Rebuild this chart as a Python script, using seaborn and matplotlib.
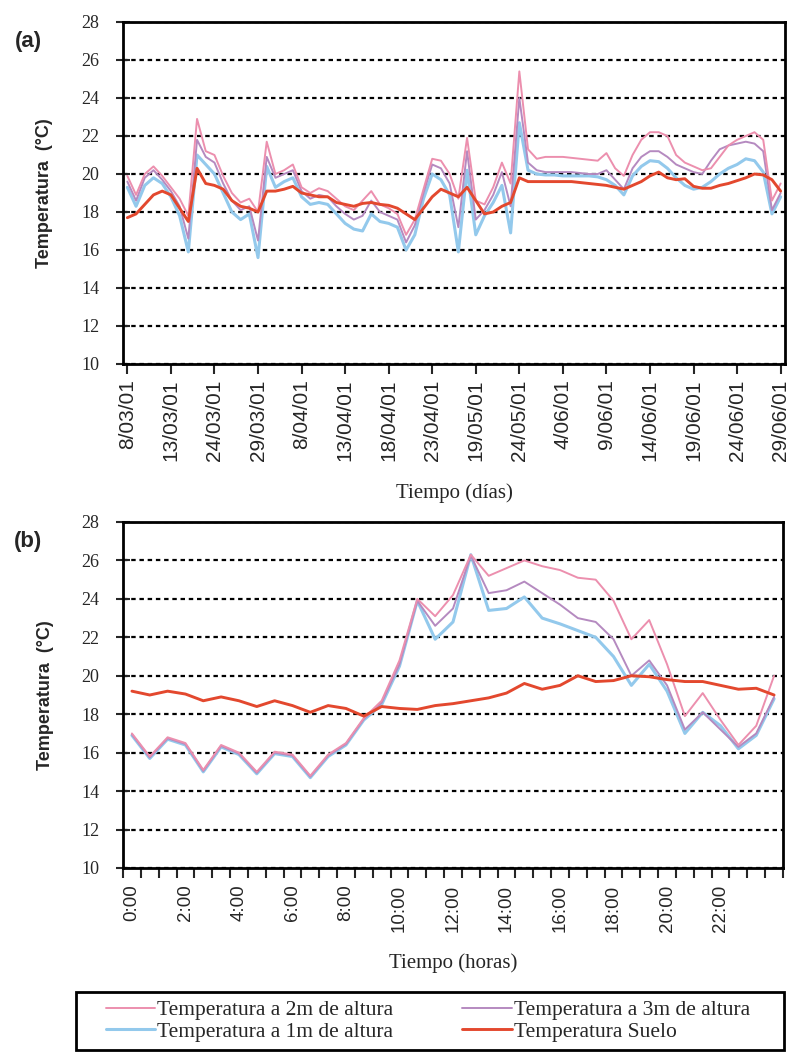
import numpy as np
import pandas as pd
import seaborn as sns
from matplotlib import pyplot as plt
from matplotlib.patches import Rectangle

# --- (a) daily series, 76 sampled days ---
date_labels = ['8/03/01', '13/03/01', '24/03/01', '29/03/01', '8/04/01', '13/04/01',
               '18/04/01', '23/04/01', '19/05/01', '24/05/01', '4/06/01', '9/06/01',
               '14/06/01', '19/06/01', '24/06/01', '29/06/01']

t2m_a = [19.9, 18.9, 20.0, 20.4, 19.9, 19.3, 18.7, 17.8, 22.9, 21.2,
         21.0, 19.9, 19.0, 18.5, 18.7, 18.0, 21.7, 20.0, 20.2, 20.5,
         19.3, 19.0, 19.25, 19.1, 18.7, 18.3, 18.1, 18.6, 19.1, 18.4,
         18.2, 17.9, 16.8, 17.6, 19.2, 20.8, 20.7, 20.0, 18.7, 21.9,
         18.6, 18.4, 19.3, 20.6, 19.5, 25.4, 21.3, 20.8, 20.9, 20.9,
         20.9, 20.85, 20.8, 20.75, 20.7, 21.1, 20.3, 19.9, 21.0, 21.8,
         22.2, 22.2, 22.0, 21.0, 20.6, 20.4, 20.2, 20.3, 20.9, 21.5,
         21.8, 22.0, 22.2, 21.8, 18.6, 19.5]
t3m_a = [19.6, 18.6, 19.8, 20.2, 19.7, 19.1, 18.3, 16.6, 21.8, 20.9,
         20.6, 19.5, 18.6, 18.1, 18.3, 16.5, 20.9, 19.8, 20.0, 20.2,
         19.1, 18.7, 18.9, 18.8, 18.3, 17.9, 17.6, 17.8, 18.6, 18.0,
         17.8, 17.6, 16.4, 17.3, 19.0, 20.5, 20.3, 19.5, 17.2, 21.2,
         17.6, 18.1, 18.9, 20.1, 18.3, 24.0, 20.6, 20.2, 20.1, 20.1,
         20.1, 20.1, 20.05, 20.0, 20.0, 20.2, 19.7, 19.2, 20.3, 20.9,
         21.2, 21.2, 20.9, 20.5, 20.3, 20.1, 20.0, 20.7, 21.3, 21.5,
         21.6, 21.7, 21.6, 21.2, 18.1, 19.0]
t1m_a = [19.3, 18.3, 19.4, 19.8, 19.5, 18.8, 17.8, 15.9, 21.0, 20.5,
         20.0, 19.0, 18.0, 17.6, 17.9, 15.6, 20.4, 19.3, 19.6, 19.8,
         18.8, 18.4, 18.5, 18.4, 17.9, 17.4, 17.1, 17.0, 17.9, 17.5,
         17.4, 17.2, 16.0, 16.8, 18.7, 20.0, 19.7, 18.9, 15.9, 20.2,
         16.8, 17.8, 18.5, 19.4, 16.9, 22.7, 20.2, 20.0, 19.95, 19.95,
         19.9, 19.9, 19.9, 19.9, 19.85, 19.7, 19.4, 18.9, 19.9, 20.4,
         20.7, 20.65, 20.3, 19.8, 19.4, 19.2, 19.3, 19.6, 20.0, 20.3,
         20.5, 20.8, 20.7, 20.1, 17.9, 18.8]
suelo_a = [17.7, 17.9, 18.4, 18.9, 19.1, 18.9, 18.2, 17.5, 20.3, 19.5,
           19.4, 19.2, 18.6, 18.3, 18.2, 18.0, 19.1, 19.1, 19.2, 19.35,
           19.0, 18.9, 18.8, 18.8, 18.5, 18.4, 18.3, 18.45, 18.5, 18.4,
           18.35, 18.2, 17.9, 17.6, 18.2, 18.8, 19.2, 19.0, 18.8, 19.3,
           18.6, 17.9, 18.0, 18.3, 18.5, 19.8, 19.6, 19.6, 19.6, 19.6,
           19.6, 19.6, 19.55, 19.5, 19.45, 19.4, 19.3, 19.2, 19.4, 19.6,
           19.9, 20.1, 19.8, 19.7, 19.75, 19.35, 19.25, 19.25, 19.4, 19.5,
           19.65, 19.8, 20.0, 19.95, 19.7, 19.1]

# --- (b) one day, every 40 min (0:00 .. 24:00) ---
hour_labels = ['0:00', '2:00', '4:00', '6:00', '8:00', '10:00',
               '12:00', '14:00', '16:00', '18:00', '20:00', '22:00']

t2m_b = [17.0, 15.8, 16.8, 16.5, 15.1, 16.4, 16.0, 15.0, 16.05, 15.9,
         14.8, 15.9, 16.5, 17.8, 18.7, 20.8, 24.0, 23.1, 24.2, 26.3,
         25.2, 25.6, 26.0, 25.7, 25.5, 25.1, 25.0, 23.9, 21.9, 22.9,
         20.6, 17.9, 19.1, 17.7, 16.4, 17.4, 20.0]
t3m_b = [16.95, 15.75, 16.75, 16.45, 15.05, 16.35, 15.95, 14.95, 16.0, 15.85,
         14.75, 15.85, 16.45, 17.75, 18.6, 20.6, 23.9, 22.6, 23.5, 26.25,
         24.3, 24.45, 24.9, 24.3, 23.7, 23.0, 22.8, 21.9, 20.0, 20.8,
         19.5, 17.2, 18.1, 17.2, 16.3, 17.0, 18.9]
t1m_b = [16.9, 15.7, 16.7, 16.4, 15.0, 16.3, 15.9, 14.9, 15.95, 15.8,
         14.7, 15.8, 16.4, 17.7, 18.5, 20.5, 23.9, 21.9, 22.8, 26.3,
         23.4, 23.5, 24.1, 23.0, 22.7, 22.35, 22.0, 21.0, 19.5, 20.6,
         19.2, 17.0, 18.1, 17.4, 16.2, 16.9, 18.8]
suelo_b = [19.2, 19.0, 19.2, 19.05, 18.7, 18.9, 18.7, 18.4, 18.7, 18.45,
           18.1, 18.45, 18.3, 17.9, 18.4, 18.3, 18.25, 18.45, 18.55, 18.7,
           18.85, 19.1, 19.6, 19.3, 19.5, 20.0, 19.7, 19.75, 20.0, 19.95,
           19.8, 19.7, 19.7, 19.5, 19.3, 19.35, 19.0]

series_names = ['Temperatura a 2m de altura', 'Temperatura a 3m de altura',
                'Temperatura a 1m de altura', 'Temperatura Suelo']
colors = {'Temperatura a 2m de altura': '#ec8fae',
          'Temperatura a 3m de altura': '#b58ac0',
          'Temperatura a 1m de altura': '#93c9ec',
          'Temperatura Suelo': '#e3482e'}
widths = {'Temperatura a 2m de altura': 1.4,
          'Temperatura a 3m de altura': 1.4,
          'Temperatura a 1m de altura': 2.2,
          'Temperatura Suelo': 2.1}
draw_order = ['Temperatura a 1m de altura', 'Temperatura a 3m de altura',
              'Temperatura a 2m de altura', 'Temperatura Suelo']
# legend fills column by column: left column 2m / 1m, right column 3m / suelo
legend_order = ['Temperatura a 2m de altura', 'Temperatura a 1m de altura',
                'Temperatura a 3m de altura', 'Temperatura Suelo']

sns.set_style('white')
plt.rcParams['font.family'] = ['Liberation Serif', 'DejaVu Sans']

fig = plt.figure(figsize=(7.91, 10.57), dpi=100)
W, H = 791, 1057
ax_a = fig.add_axes([123 / W, 1 - 364 / H, 662 / W, 342 / H])
ax_b = fig.add_axes([123 / W, 1 - 868 / H, 660 / W, 346 / H])


def draw_panel(ax, data):
    for name in draw_order:
        d = data[data['serie'] == name]
        sns.lineplot(x=d['x'], y=d['temp'], ax=ax, color=colors[name],
                     linewidth=widths[name], label=name, legend=False)
    ax.set_ylim(10, 28)
    ax.set_yticks(range(10, 29, 2))
    ax.grid(axis='y', color='black', linestyle=(0, (2, 1.7)), linewidth=1.6)
    ax.grid(axis='x', visible=False)
    ax.set_axisbelow(True)
    for s in ax.spines.values():
        s.set_color('black')
        s.set_linewidth(2)
    ax.tick_params(axis='y', direction='inout', length=10, width=1.5,
                   labelsize=13, pad=12, left=True)
    ax.set_ylabel('Temperatura  (°C)', fontsize=13, fontweight='bold',
                  family=['Liberation Sans'])
    ax.yaxis.set_label_coords(-0.105, 0.5)


def to_long(series, n):
    frames = []
    for name, vals in zip(series_names, series):
        frames.append(pd.DataFrame({'x': np.arange(n), 'temp': vals, 'serie': name}))
    return pd.concat(frames, ignore_index=True)


data_a = to_long([t2m_a, t3m_a, t1m_a, suelo_a], len(suelo_a))
data_b = to_long([t2m_b, t3m_b, t1m_b, suelo_b], len(suelo_b))

# panel (a)
draw_panel(ax_a, data_a)
ax_a.set_xlim(-0.5, len(suelo_a) - 0.5)
step_a = (len(suelo_a) - 1) // (len(date_labels) - 1)
ax_a.set_xticks(np.arange(len(date_labels)) * step_a)
ax_a.set_xticklabels(date_labels, rotation=90, fontsize=15, family=['Liberation Sans'])
ax_a.tick_params(axis='x', direction='out', length=7, width=1.5, bottom=True, pad=4)
ax_a.set_xlabel('Tiempo (días)', fontsize=15)
ax_a.xaxis.set_label_coords(0.5, -0.35)

# panel (b)
draw_panel(ax_b, data_b)
ax_b.set_xlim(-0.5, len(suelo_b) - 0.5)
ax_b.set_xticks(np.arange(len(hour_labels)) * 3)
ax_b.set_xticklabels(hour_labels, rotation=90, fontsize=13.5, family=['Liberation Sans'])
ax_b.set_xticks(np.arange(len(suelo_b) + 1) - 0.5, minor=True)
ax_b.tick_params(axis='x', which='major', length=0, pad=12)
ax_b.tick_params(axis='x', which='minor', direction='out', length=7, width=1.5, bottom=True)
ax_b.set_xlabel('Tiempo (horas)', fontsize=15)
ax_b.xaxis.set_label_coords(0.5, -0.245)

fig.text(28 / W, 1 - 42 / H, '(a)', fontsize=16, fontweight='bold',
         family=['Liberation Sans'], ha='center', va='center')
fig.text(28 / W, 1 - 541 / H, '(b)', fontsize=16, fontweight='bold',
         family=['Liberation Sans'], ha='center', va='center')

# legend: frameless entries inside a separately drawn box
fig.patches.append(Rectangle((76 / W, 1 - 1050 / H), 708 / W, 58 / H,
                             transform=fig.transFigure, fill=False,
                             edgecolor='black', linewidth=2))
handles, labels = ax_b.get_legend_handles_labels()
hmap = dict(zip(labels, handles))
fig.legend([hmap[n] for n in legend_order], legend_order,
           loc='center', bbox_to_anchor=(428 / W, 1 - 1021 / H),
           ncol=2, frameon=False, borderpad=0, borderaxespad=0,
           handlelength=2.3, handletextpad=0.1, labelspacing=0.05,
           columnspacing=3.2,
           prop={'family': 'Liberation Serif', 'size': 15.5})

fig.savefig('out.png', dpi=100, facecolor='white')
plt.close(fig)
